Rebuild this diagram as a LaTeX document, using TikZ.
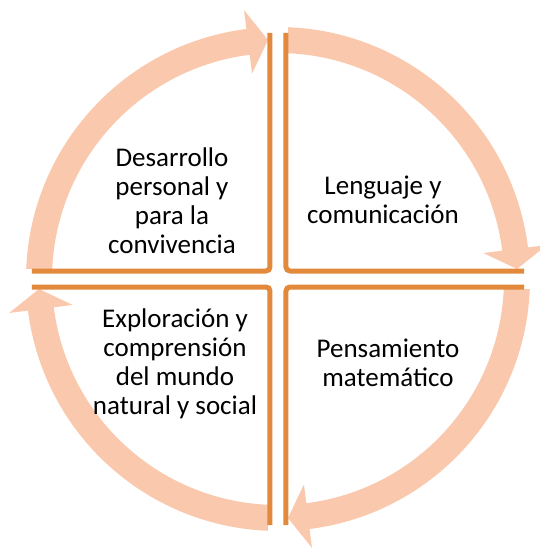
\documentclass[tikz,border=0pt]{standalone}
\usepackage{fontspec}
\setmainfont{Carlito}
\usetikzlibrary{positioning}
\definecolor{ringfill}{RGB}{250,200,172}
\definecolor{edgeorange}{RGB}{226,137,60}

\begin{document}
\begin{tikzpicture}[x=1pt,y=1pt,
	ring/.style={fill=ringfill,draw=none},
	edge/.style={draw=edgeorange,line width=5pt,rounded corners=4pt},
	lbl/.style={align=center,font=\fontsize{27}{29}\selectfont,inner sep=0pt}]
	\useasboundingbox (-278,-270) rectangle (262,279);
	\foreach \r in {0,-90,-180,-270}
		\fill [ring,rotate=\r] (177.7:252) arc [start angle=177.7,end angle=97.2,radius=252] -- (97.2:271) -- (-10,239) -- (97.2:207) -- (97.2:226) arc [start angle=97.2,end angle=177.5,radius=226] -- cycle;
	\foreach \r in {0,90,180,270}
		\draw [edge,rotate=\r] (-8,246) -- (-8,8) -- (-246,8);
	\node [lbl] (desarrollo) at (-106,78) {Desarrollo\\personal y\\para la\\convivencia};
	\node [lbl] (lenguaje) at (105,79) {Lenguaje y\\comunicación};
	\node [lbl] (exploracion) at (-103,-85) {Exploración y\\comprensión\\del mundo\\natural y social};
	\node [lbl] (pensamiento) at (110,-84) {Pensamiento\\matemático};
\end{tikzpicture}
\end{document}
